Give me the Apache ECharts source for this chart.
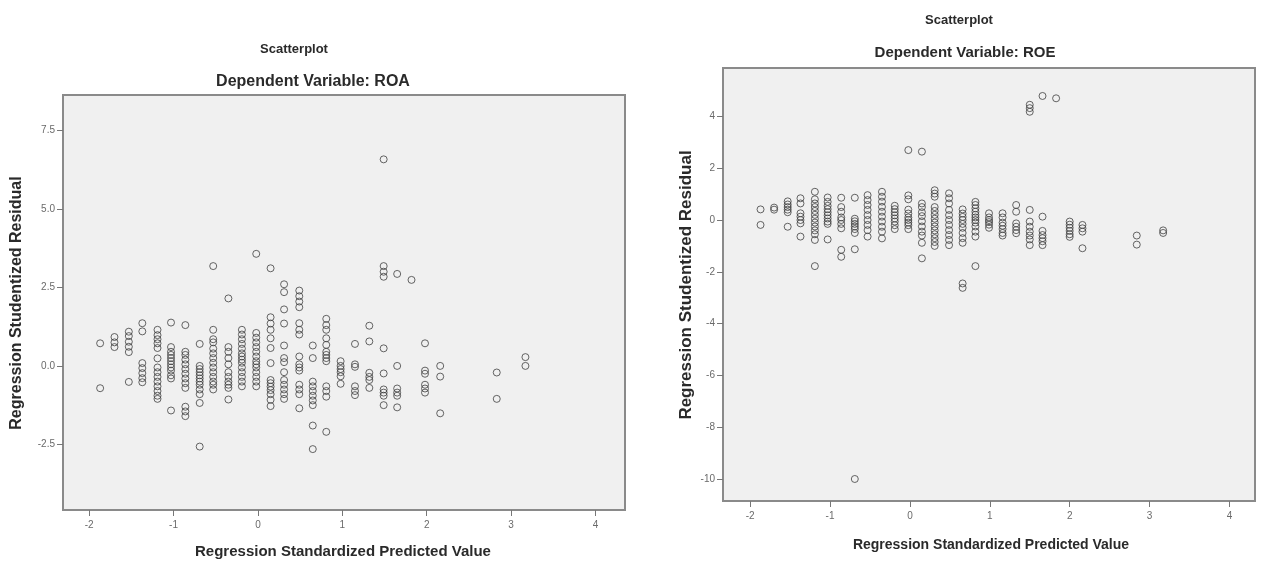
<!DOCTYPE html>
<html>
<head>
<meta charset="utf-8">
<script src="https://cdn.jsdelivr.net/npm/echarts@6/dist/echarts.min.js"></script>
<style>
html,body{margin:0;padding:0;background:#fff;}
#main{width:1261px;height:561px;}
</style>
</head>
<body>
<div id="main"></div>
<script>
// ---- ROA chart (left) ----
const roaX = [-1.87,-1.70,-1.53,-1.37,-1.19,-1.03,-0.86,-0.69,-0.53,-0.35,-0.19,-0.02,0.15,0.31,0.49,0.65,0.81,0.98,1.15,1.32,1.49,1.65,1.82,1.98,2.16,2.83,3.17];
const roaY = [
  [0.72,-0.71],
  [0.92,0.75,0.6],
  [1.09,0.95,0.77,0.61,0.44,-0.51],
  [1.36,1.1,0.09,-0.07,-0.23,-0.39,-0.52],
  [1.15,0.98,0.85,0.72,0.57,0.24,-0.05,-0.2,-0.35,-0.5,-0.65,-0.8,-0.95,-1.05],
  [1.38,0.6,0.45,0.35,0.25,0.15,0.05,-0.05,-0.15,-0.3,-0.4,-1.42],
  [1.3,0.45,0.35,0.2,0.05,-0.1,-0.25,-0.4,-0.55,-0.7,-1.3,-1.45,-1.6],
  [0.7,0.0,-0.1,-0.2,-0.3,-0.4,-0.5,-0.6,-0.75,-0.9,-1.18,-2.57],
  [3.18,1.15,0.85,0.75,0.55,0.4,0.25,0.1,-0.05,-0.2,-0.35,-0.5,-0.6,-0.75],
  [2.15,0.6,0.45,0.25,0.05,-0.2,-0.35,-0.5,-0.6,-0.7,-1.07],
  [1.15,1.0,0.85,0.7,0.55,0.4,0.3,0.2,0.1,-0.05,-0.2,-0.35,-0.5,-0.65],
  [3.57,1.05,0.9,0.75,0.6,0.45,0.3,0.15,0.05,-0.05,-0.2,-0.35,-0.5,-0.65],
  [3.11,1.55,1.35,1.15,0.88,0.57,0.09,-0.45,-0.55,-0.66,-0.77,-0.9,-1.08,-1.28],
  [2.6,2.35,1.8,1.35,0.65,0.25,0.12,-0.2,-0.45,-0.6,-0.75,-0.9,-1.05],
  [2.4,2.22,2.05,1.87,1.36,1.15,1.0,0.3,0.05,-0.05,-0.15,-0.6,-0.75,-0.9,-1.35],
  [0.65,0.25,-0.5,-0.65,-0.8,-0.95,-1.1,-1.25,-1.9,-2.65],
  [1.5,1.3,1.15,0.88,0.67,0.45,0.35,0.25,0.15,-0.65,-0.8,-0.98,-2.1],
  [0.15,0.0,-0.1,-0.2,-0.33,-0.57],
  [0.7,0.05,-0.03,-0.65,-0.8,-0.93],
  [1.28,0.78,-0.22,-0.35,-0.45,-0.7],
  [6.58,3.18,3.0,2.84,0.56,-0.24,-0.75,-0.85,-0.95,-1.25],
  [2.93,0.0,-0.72,-0.85,-0.95,-1.32],
  [2.74],
  [0.72,-0.15,-0.25,-0.6,-0.72,-0.85],
  [0.0,-0.34,-1.51],
  [-0.21,-1.05],
  [0.28,0.0]
];
const roaXTicks = [-2,-1,0,1,2,3,4];
const roaYTicks = [-2.5,0,2.5,5,7.5];

// ---- ROE chart (right) ----
const roeX = [-1.87,-1.70,-1.53,-1.37,-1.19,-1.03,-0.86,-0.69,-0.53,-0.35,-0.19,-0.02,0.15,0.31,0.49,0.66,0.82,0.99,1.16,1.33,1.50,1.66,1.83,2.0,2.16,2.84,3.17];
const roeY = [
  [0.41,-0.19],
  [0.48,0.4],
  [0.72,0.6,0.5,0.4,0.3,-0.26],
  [0.84,0.64,0.26,0.13,0.0,-0.13,-0.64],
  [1.09,0.8,0.64,0.5,0.35,0.2,0.05,-0.1,-0.25,-0.4,-0.55,-0.77,-1.78],
  [0.87,0.7,0.55,0.42,0.3,0.18,0.06,-0.06,-0.15,-0.75],
  [0.86,0.5,0.32,0.1,0.0,-0.15,-0.32,-1.15,-1.42],
  [0.86,0.05,-0.05,-0.15,-0.25,-0.35,-0.5,-1.13,-10.0],
  [0.96,0.77,0.58,0.39,0.19,0.0,-0.19,-0.39,-0.64],
  [1.09,0.9,0.71,0.51,0.32,0.13,-0.06,-0.26,-0.45,-0.71],
  [0.55,0.42,0.3,0.18,0.06,-0.06,-0.2,-0.35],
  [2.7,0.95,0.8,0.4,0.25,0.1,0.0,-0.1,-0.2,-0.35],
  [2.64,0.64,0.5,0.3,0.15,-0.05,-0.25,-0.45,-0.6,-0.88,-1.48],
  [1.15,1.02,0.9,0.5,0.35,0.2,0.05,-0.1,-0.25,-0.4,-0.55,-0.7,-0.85,-1.0],
  [1.03,0.84,0.64,0.39,0.19,0.0,-0.19,-0.39,-0.58,-0.77,-0.97],
  [0.41,0.25,0.12,0.0,-0.15,-0.3,-0.5,-0.7,-0.88,-2.45,-2.62],
  [0.7,0.58,0.45,0.32,0.2,0.1,0.0,-0.1,-0.25,-0.45,-0.64,-1.78],
  [0.26,0.1,0.0,-0.08,-0.18,-0.3],
  [0.26,0.1,-0.1,-0.22,-0.35,-0.5,-0.6],
  [0.58,0.32,-0.13,-0.26,-0.39,-0.51],
  [4.45,4.32,4.18,0.39,-0.06,-0.26,-0.45,-0.6,-0.75,-0.97],
  [4.79,0.13,-0.42,-0.58,-0.7,-0.82,-0.97],
  [4.7],
  [-0.06,-0.18,-0.3,-0.42,-0.55,-0.65],
  [-0.19,-0.32,-0.45,-1.09],
  [-0.6,-0.95],
  [-0.4,-0.5]
];
const roeXTicks = [-2,-1,0,1,2,3,4];
const roeYTicks = [-10,-8,-6,-4,-2,0,2,4];

const titles = {
  main: 'Scatterplot',
  roaSub: 'Dependent Variable: ROA',
  roeSub: 'Dependent Variable: ROE',
  xName: 'Regression Standardized Predicted Value',
  yName: 'Regression Studentized Residual'
};

function pairs(xs, ys) {
  const out = [];
  xs.forEach((x, i) => ys[i].forEach(y => out.push([x, y])));
  return out;
}

const FONT = '"Liberation Sans", Arial, sans-serif';
const tickLabel = { color: '#6a6a6a', fontSize: 10, fontFamily: FONT };

function xAxisCfg(gi, min, max, ticks) {
  return {
    type: 'value', gridIndex: gi, min: min, max: max,
    splitLine: { show: false },
    axisLine: { show: true, onZero: false, lineStyle: { color: '#8a8a8a', width: 2 } },
    axisTick: { show: true, customValues: ticks, length: 6, lineStyle: { color: '#777', width: 1 } },
    axisLabel: Object.assign({ customValues: ticks, margin: 10, formatter: v => String(Math.round(v)) }, tickLabel)
  };
}
function yAxisCfg(gi, min, max, ticks, dec) {
  return {
    type: 'value', gridIndex: gi, min: min, max: max,
    splitLine: { show: false },
    axisLine: { show: true, onZero: false, lineStyle: { color: '#8a8a8a', width: 2 } },
    axisTick: { show: true, customValues: ticks, length: 6, lineStyle: { color: '#777', width: 1 } },
    axisLabel: Object.assign({ customValues: ticks, margin: 8, formatter: v => v.toFixed(dec) }, tickLabel)
  };
}

function txt(text, x, y, size, rot) {
  return {
    type: 'text', x: x, y: y, rotation: rot || 0,
    style: {
      text: text, textAlign: 'center', textVerticalAlign: 'middle',
      fontSize: size, fontWeight: 'bold', fontFamily: FONT, fill: '#2a2a2a'
    }
  };
}

const symStyle = { color: 'rgba(0,0,0,0)', borderColor: '#404040', borderWidth: 1 };

const chart = echarts.init(document.getElementById('main'), null, { renderer: 'canvas' });
chart.setOption({
  animation: false,
  backgroundColor: '#ffffff',
  grid: [
    { left: 63, top: 95, width: 562, height: 415, show: true, backgroundColor: '#f0f0f0', borderColor: '#8a8a8a', borderWidth: 2 },
    { left: 723, top: 68, width: 532, height: 433, show: true, backgroundColor: '#f0f0f0', borderColor: '#8a8a8a', borderWidth: 2 }
  ],
  xAxis: [
    xAxisCfg(0, -2.31, 4.35, roaXTicks),
    xAxisCfg(1, -2.34, 4.32, roeXTicks)
  ],
  yAxis: [
    yAxisCfg(0, -4.59, 8.63, roaYTicks, 1),
    yAxisCfg(1, -10.85, 5.87, roeYTicks, 0)
  ],
  series: [
    { type: 'scatter', xAxisIndex: 0, yAxisIndex: 0, data: pairs(roaX, roaY), symbol: 'circle', symbolSize: 7, itemStyle: symStyle, silent: true },
    { type: 'scatter', xAxisIndex: 1, yAxisIndex: 1, data: pairs(roeX, roeY), symbol: 'circle', symbolSize: 7, itemStyle: symStyle, silent: true }
  ],
  graphic: [
    txt(titles.main, 294, 49, 13),
    txt(titles.roaSub, 313, 82, 16),
    txt(titles.xName, 343, 552, 15),
    txt(titles.yName, 17, 303, 16, Math.PI / 2),
    txt(titles.main, 959, 20, 13),
    txt(titles.roeSub, 965, 53, 15),
    txt(titles.xName, 991, 545, 14),
    txt(titles.yName, 686, 285, 17, Math.PI / 2)
  ]
});
</script>
</body>
</html>
